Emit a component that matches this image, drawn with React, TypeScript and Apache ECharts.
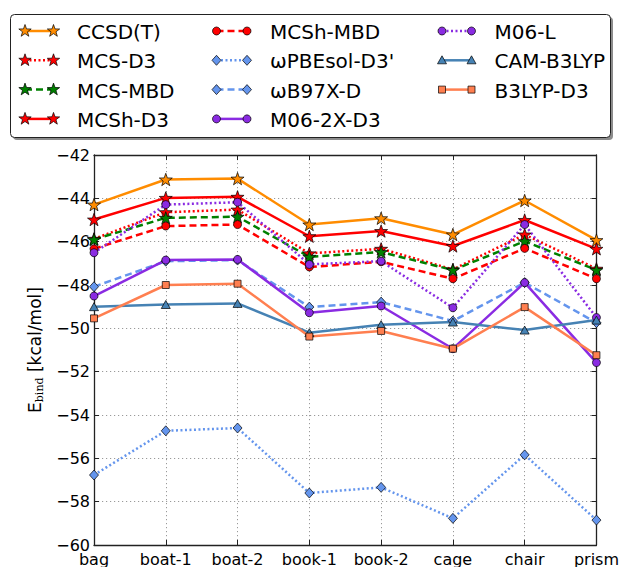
import React, { useEffect, useRef } from "react";
import * as echarts from "echarts";

// Water hexamer isomers and binding energies (kcal/mol) per method
const categories = ["bag", "boat-1", "boat-2", "book-1", "book-2", "cage", "chair", "prism"];

const ccsdt = [-44.29, -43.13, -43.09, -45.21, -44.92, -45.67, -44.1, -45.93];
const mcsD3 = [-45.87, -44.64, -44.52, -46.54, -46.33, -47.28, -45.67, -47.25];
const mcsMbd = [-45.9, -44.9, -44.85, -46.7, -46.48, -47.31, -45.98, -47.31];
const mcshD3 = [-44.98, -43.98, -43.93, -45.75, -45.51, -46.2, -45.0, -46.33];
const mcshMbd = [-46.33, -45.28, -45.21, -47.17, -46.93, -47.71, -46.31, -47.71];
const wpbesolD3 = [-56.77, -54.73, -54.6, -57.6, -57.34, -58.77, -55.84, -58.85];
const wb97xd = [-48.08, -46.9, -46.85, -49.02, -48.79, -49.66, -47.89, -49.74];
const m062xD3 = [-48.51, -46.85, -46.82, -49.28, -48.97, -50.94, -47.89, -51.58];
const m06l = [-46.51, -44.29, -44.18, -47.05, -46.9, -49.05, -45.21, -49.5];
const camB3lyp = [-49.0, -48.9, -48.85, -50.2, -49.83, -49.71, -50.08, -49.62];
const b3lypD3 = [-49.54, -48.0, -47.94, -50.38, -50.12, -50.94, -49.02, -51.24];

const yTicks = { min: -60, max: -42, step: 2 };

type Marker = "star" | "circle" | "diamond" | "triangle" | "square";
type Dash = "solid" | "dashed" | "dotted";

const methods: { name: string; data: number[]; color: string; dash: Dash; marker: Marker }[] = [
  { name: "CCSD(T)", data: ccsdt, color: "#ff8c00", dash: "solid", marker: "star" },
  { name: "MCS-D3", data: mcsD3, color: "#ff0000", dash: "dotted", marker: "star" },
  { name: "MCS-MBD", data: mcsMbd, color: "#008000", dash: "dashed", marker: "star" },
  { name: "MCSh-D3", data: mcshD3, color: "#ff0000", dash: "solid", marker: "star" },
  { name: "MCSh-MBD", data: mcshMbd, color: "#ff0000", dash: "dashed", marker: "circle" },
  { name: "ωPBEsol-D3'", data: wpbesolD3, color: "#6495ed", dash: "dotted", marker: "diamond" },
  { name: "ωB97X-D", data: wb97xd, color: "#6495ed", dash: "dashed", marker: "diamond" },
  { name: "M06-2X-D3", data: m062xD3, color: "#8a2be2", dash: "solid", marker: "circle" },
  { name: "M06-L", data: m06l, color: "#8a2be2", dash: "dotted", marker: "circle" },
  { name: "CAM-B3LYP", data: camB3lyp, color: "#4682b4", dash: "solid", marker: "triangle" },
  { name: "B3LYP-D3", data: b3lypD3, color: "#ff7f50", dash: "solid", marker: "square" },
];

const FONT = '"DejaVu Sans", sans-serif';
const SERIF = '"DejaVu Serif", serif';
const LINE_W = 2.5;

function dashArray(d: Dash): number[] | "solid" {
  if (d === "dashed") return [7, 4];
  if (d === "dotted") return [2, 2.5];
  return "solid";
}

function starPoints(r: number): number[][] {
  const pts: number[][] = [];
  for (let i = 0; i < 10; i++) {
    const a = (-90 + i * 36) * (Math.PI / 180);
    const rr = i % 2 === 0 ? r : r * 0.4;
    pts.push([rr * Math.cos(a), rr * Math.sin(a)]);
  }
  return pts;
}

const starSymbol =
  "path://" +
  starPoints(10)
    .map((p, i) => `${i === 0 ? "M" : "L"}${(p[0] + 10).toFixed(3)} ${(p[1] + 10).toFixed(3)}`)
    .join(" ") +
  " Z";

function symbolFor(m: Marker): { symbol: string; size: number | number[] } {
  switch (m) {
    case "star":
      return { symbol: starSymbol, size: [13, 12.4] };
    case "circle":
      return { symbol: "circle", size: 8 };
    case "diamond":
      return { symbol: "diamond", size: [9, 10] };
    case "triangle":
      return { symbol: "triangle", size: [9, 8] };
    default:
      return { symbol: "rect", size: 7 };
  }
}

// legend glyph for one marker, centred at (cx, cy)
function legendMarker(m: Marker, cx: number, cy: number, color: string): any {
  const style = { fill: color, stroke: "#000", lineWidth: 0.7 };
  if (m === "circle") return { type: "circle", shape: { cx, cy, r: 4 }, style };
  if (m === "square") return { type: "rect", shape: { x: cx - 3.5, y: cy - 3.5, width: 7, height: 7 }, style };
  let pts: number[][];
  if (m === "star") pts = starPoints(6.5);
  else if (m === "diamond") pts = [[0, -5], [4.5, 0], [0, 5], [-4.5, 0]];
  else pts = [[0, -4.5], [4.5, 3.5], [-4.5, 3.5]];
  return { type: "polygon", shape: { points: pts.map((p) => [p[0] + cx, p[1] + cy]) }, style };
}

const legendCols = [
  { m1: 25, m2: 53.5, tx: 77 },
  { m1: 216.5, m2: 247, tx: 270 },
  { m1: 442, m2: 471.5, tx: 494.5 },
];
const legendRowY = [31, 60.3, 89.6, 118.9];

function buildLegend(): any[] {
  const els: any[] = [
    { type: "rect", shape: { x: 13, y: 17, width: 600, height: 123, r: 4 }, style: { fill: "#8c8c8c" }, z: 10 },
    { type: "rect", shape: { x: 10.5, y: 14.5, width: 600, height: 123, r: 4 }, style: { fill: "#fff", stroke: "#222", lineWidth: 1 }, z: 11 },
  ];
  methods.forEach((s, i) => {
    const col = legendCols[Math.floor(i / 4)];
    const y = legendRowY[i % 4];
    const dash = dashArray(s.dash);
    els.push({
      type: "line",
      z: 12,
      shape: { x1: col.m1, y1: y, x2: col.m2, y2: y },
      style: { stroke: s.color, lineWidth: LINE_W, lineDash: dash === "solid" ? null : dash },
    });
    els.push({ ...legendMarker(s.marker, col.m1, y, s.color), z: 13 });
    els.push({ ...legendMarker(s.marker, col.m2, y, s.color), z: 13 });
    els.push({
      type: "text",
      z: 13,
      style: {
        text: s.name,
        x: col.tx,
        y: y + 1,
        fill: "#000",
        font: `20px ${FONT}`,
        textAlign: "left",
        textVerticalAlign: "middle",
        verticalAlign: "middle",
      },
    });
  });
  return els;
}

const minus = (v: number) => String(v).replace("-", "\u2212");

export default function App() {
  const ref = useRef<HTMLDivElement>(null);

  useEffect(() => {
    if (!ref.current) return;
    const chart = echarts.init(ref.current, undefined, { renderer: "svg" });
    const axisLine = { show: true, lineStyle: { color: "#222", width: 1.3 } };
    const tick = { show: true, inside: true, length: 5, lineStyle: { color: "#222", width: 1 } };
    const grid = { show: true, lineStyle: { color: "#9a9a9a", width: 1, type: [1.2, 2.8] } };

    chart.setOption({
      animation: false,
      backgroundColor: "#fff",
      textStyle: { fontFamily: FONT },
      grid: { left: 94, top: 155, width: 503, height: 391, containLabel: false },
      xAxis: [
        {
          type: "category",
          data: categories,
          boundaryGap: false,
          axisLine,
          axisTick: tick,
          splitLine: grid,
          axisLabel: { color: "#000", fontSize: 16, fontFamily: FONT, margin: 6 },
        },
        {
          type: "category",
          data: categories,
          position: "top",
          boundaryGap: false,
          axisLine,
          axisTick: tick,
          axisLabel: { show: false },
          splitLine: { show: false },
        },
      ],
      yAxis: [
        {
          type: "value",
          min: yTicks.min,
          max: yTicks.max,
          interval: yTicks.step,
          axisLine,
          axisTick: tick,
          splitLine: grid,
          axisLabel: { color: "#000", fontSize: 16, fontFamily: FONT, margin: 4, formatter: minus },
          name: "{a|E}{b|bind}{a| [kcal/mol]}",
          nameLocation: "middle",
          nameGap: 33,
          nameRotate: 90,
          nameTextStyle: {
            color: "#000",
            rich: {
              a: { fontSize: 17, fontFamily: FONT, color: "#000" },
              b: { fontSize: 11, fontFamily: SERIF, color: "#000", padding: [9, 0, 0, 0] },
            },
          },
        },
        {
          type: "value",
          position: "right",
          min: yTicks.min,
          max: yTicks.max,
          interval: yTicks.step,
          axisLine,
          axisTick: tick,
          axisLabel: { show: false },
          splitLine: { show: false },
        },
      ],
      series: methods.map((s) => {
        const sym = symbolFor(s.marker);
        return {
          name: s.name,
          type: "line",
          xAxisIndex: 0,
          yAxisIndex: 0,
          data: s.data,
          symbol: sym.symbol,
          symbolSize: sym.size,
          showAllSymbol: true,
          lineStyle: { color: s.color, width: LINE_W, type: dashArray(s.dash) },
          itemStyle: { color: s.color, borderColor: "#000", borderWidth: 0.7 },
          emphasis: { disabled: true },
          clip: false,
        };
      }),
      graphic: buildLegend(),
    });

    return () => chart.dispose();
  }, []);

  return (
    <div
      ref={ref}
      style={{ position: "fixed", left: 0, top: 0, width: 622, height: 567, background: "#fff" }}
    />
  );
}
